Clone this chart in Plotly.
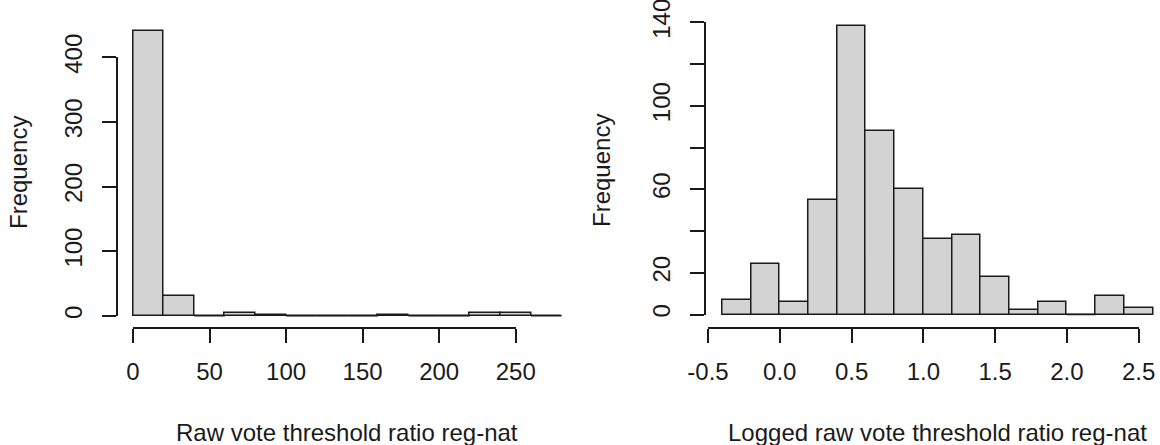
import plotly.graph_objects as go

# ---------------- data ----------------
raw_breaks = [0, 20, 40, 60, 80, 100, 120, 140, 160, 180, 200, 220, 240, 260, 280]
raw_counts = [440, 31, 0, 5, 2, 0, 0, 0, 2, 0, 0, 5, 5, 0]

log_breaks = [-0.4, -0.2, 0.0, 0.2, 0.4, 0.6, 0.8, 1.0, 1.2, 1.4, 1.6, 1.8, 2.0, 2.2, 2.4, 2.6]
log_counts = [7, 24, 6, 55, 138, 88, 60, 36, 38, 18, 2, 6, 0, 9, 3]

raw_xticks = [0, 50, 100, 150, 200, 250]
raw_xlabels = ["0", "50", "100", "150", "200", "250"]
raw_yticks = [0, 100, 200, 300, 400]
raw_ylabels = ["0", "100", "200", "300", "400"]

log_xticks = [-0.5, 0.0, 0.5, 1.0, 1.5, 2.0, 2.5]
log_xlabels = ["-0.5", "0.0", "0.5", "1.0", "1.5", "2.0", "2.5"]
log_yticks = [0, 20, 40, 60, 80, 100, 120, 140]
log_ylabels = ["0", "20", "", "60", "", "100", "", "140"]

raw_xtitle = "Raw vote threshold ratio reg-nat"
log_xtitle = "Logged raw vote threshold ratio reg-nat"
ytitle = "Frequency"

# ---------------- styling ----------------
W, H = 1160, 445
FONT = "Liberation Sans, Arial, sans-serif"
FS = 24
INK = "#1a1a1a"
FILL = "#d3d3d3"
LW = 1.5
TICKLEN = 14


def fx(p):
    return p / W


def fy(p):
    return 1 - p / H


def bar_trace(breaks, counts, xa, ya):
    centers = [(a + b) / 2 for a, b in zip(breaks[:-1], breaks[1:])]
    widths = [b - a for a, b in zip(breaks[:-1], breaks[1:])]
    return go.Bar(x=centers, y=counts, width=widths, xaxis=xa, yaxis=ya,
                  marker=dict(color=FILL, line=dict(color=INK, width=LW)),
                  showlegend=False, hoverinfo="skip")


def zero_trace(breaks, counts, xa, ya):
    xs, ys = [], []
    for a, b, c in zip(breaks[:-1], breaks[1:], counts):
        if c == 0:
            xs += [a, b, None]
            ys += [0, 0, None]
    return go.Scatter(x=xs, y=ys, mode="lines", xaxis=xa, yaxis=ya,
                      line=dict(color=INK, width=LW), showlegend=False,
                      hoverinfo="skip")


def dummy(xa, ya):
    return go.Scatter(x=[None], y=[None], xaxis=xa, yaxis=ya, mode="markers",
                      showlegend=False, hoverinfo="skip")


fig = go.Figure()
fig.add_trace(bar_trace(raw_breaks, raw_counts, "x", "y"))
fig.add_trace(zero_trace(raw_breaks, raw_counts, "x", "y"))
fig.add_trace(bar_trace(log_breaks, log_counts, "x2", "y2"))
fig.add_trace(zero_trace(log_breaks, log_counts, "x2", "y2"))
fig.add_trace(dummy("x3", "y3"))
fig.add_trace(dummy("x4", "y4"))

hidden = dict(showline=False, showgrid=False, zeroline=False, showticklabels=False,
              ticks="", fixedrange=True, automargin=False)

# pixel geometry (left panel)
L_x0px, L_x250px = 133.0, 515.7
L_xs = (L_x250px - L_x0px) / 250.0
L_dom = (116.5, 578.5)
L_y0px, L_y400px = 315.8, 57.3
L_ys = (L_y0px - L_y400px) / 400.0
L_vdom = (20.0, 328.0)

# right panel
R_xm05px, R_x25px = 708.0, 1138.7
R_xs = (R_x25px - R_xm05px) / 3.0
R_dom = (704.5, 1160.0)
R_y0px, R_y140px = 314.5, 22.3
R_ys = (R_y0px - R_y140px) / 140.0
R_vdom = (14.0, 328.0)

AXIS_Y_PX = 328.3

tickfont = dict(family=FONT, size=FS, color=INK)

deco_common = dict(showline=True, linecolor=INK, linewidth=LW, ticks="outside",
                   ticklen=TICKLEN, tickwidth=LW, tickcolor=INK, showgrid=False,
                   zeroline=False, tickfont=tickfont, tickmode="array",
                   fixedrange=True, automargin=False, ticklabeloverflow="allow")

fig.update_layout(
    template="none",
    width=W, height=H, margin=dict(l=0, r=0, t=0, b=0, pad=0, autoexpand=False),
    paper_bgcolor="white", plot_bgcolor="rgba(0,0,0,0)",
    bargap=0, barmode="overlay", showlegend=False,
    xaxis=dict(domain=[fx(L_dom[0]), fx(L_dom[1])],
               range=[(L_dom[0] - L_x0px) / L_xs, (L_dom[1] - L_x0px) / L_xs],
               anchor="y", **hidden),
    yaxis=dict(domain=[fy(L_vdom[1]), fy(L_vdom[0])],
               range=[-(L_vdom[1] - L_y0px) / L_ys, (L_y0px - L_vdom[0]) / L_ys],
               anchor="x", **hidden),
    xaxis2=dict(domain=[fx(R_dom[0]), fx(R_dom[1])],
                range=[-0.5 + (R_dom[0] - R_xm05px) / R_xs, -0.5 + (R_dom[1] - R_xm05px) / R_xs],
                anchor="y2", **hidden),
    yaxis2=dict(domain=[fy(R_vdom[1]), fy(R_vdom[0])],
                range=[-(R_vdom[1] - R_y0px) / R_ys, (R_y0px - R_vdom[0]) / R_ys],
                anchor="x2", **hidden),
    xaxis3=dict(domain=[fx(L_x0px), fx(L_x250px)], range=[raw_xticks[0], raw_xticks[-1]],
                anchor="free", position=fy(AXIS_Y_PX), side="bottom",
                tickvals=raw_xticks, ticktext=raw_xlabels, ticklabelstandoff=8,
                **deco_common),
    yaxis3=dict(domain=[fy(L_y0px), fy(L_y400px)], range=[raw_yticks[0], raw_yticks[-1]],
                anchor="free", position=fx(116.5), side="left",
                tickvals=raw_yticks, ticktext=raw_ylabels, tickangle=-90,
                ticklabelstandoff=10, **deco_common),
    xaxis4=dict(domain=[fx(R_xm05px), fx(R_x25px)], range=[log_xticks[0], log_xticks[-1]],
                anchor="free", position=fy(AXIS_Y_PX), side="bottom",
                tickvals=log_xticks, ticktext=log_xlabels, ticklabelstandoff=8,
                **deco_common),
    yaxis4=dict(domain=[fy(R_y0px), fy(R_y140px)], range=[log_yticks[0], log_yticks[-1]],
                anchor="free", position=fx(704.5), side="left",
                tickvals=log_yticks, ticktext=log_ylabels, tickangle=-90,
                ticklabelstandoff=10, **deco_common),
)

titlefont = dict(family=FONT, size=FS, color=INK)
fig.add_annotation(text=raw_xtitle, xref="paper", yref="paper", x=fx(347), y=fy(432),
                   xanchor="center", yanchor="middle", showarrow=False, font=titlefont)
fig.add_annotation(text=log_xtitle, xref="paper", yref="paper", x=fx(937), y=fy(432),
                   xanchor="center", yanchor="middle", showarrow=False, font=titlefont)
fig.add_annotation(text=ytitle, xref="paper", yref="paper", x=fx(18), y=fy(173),
                   xanchor="center", yanchor="middle", showarrow=False, textangle=-90,
                   font=titlefont)
fig.add_annotation(text=ytitle, xref="paper", yref="paper", x=fx(602), y=fy(171),
                   xanchor="center", yanchor="middle", showarrow=False, textangle=-90,
                   font=titlefont)

fig.write_html("out.html")
